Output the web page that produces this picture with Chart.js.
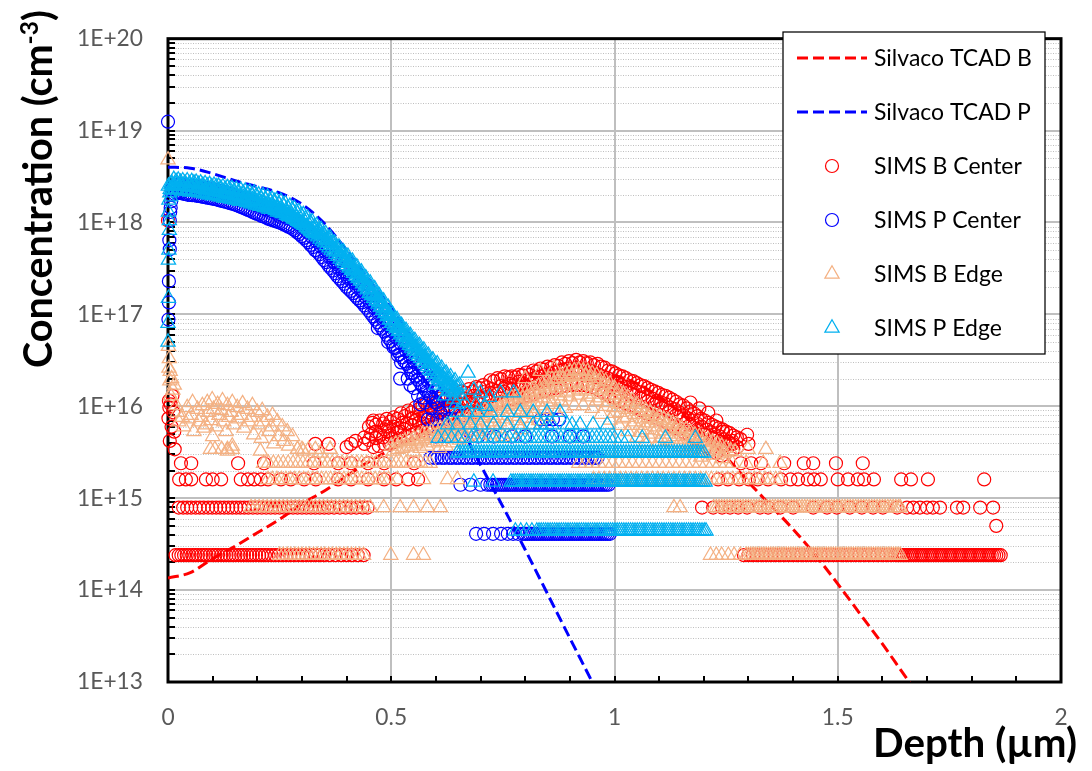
<!DOCTYPE html>
<html>
<head>
<meta charset="utf-8">
<title>Depth profile</title>
<script src="https://cdn.jsdelivr.net/npm/chart.js@4.4.1/dist/chart.umd.min.js"></script>
<style>
  html, body { margin: 0; padding: 0; background: #ffffff; }
  #wrap { width: 1092px; height: 771px; }
</style>
</head>
<body>
<div id="wrap"><canvas id="chart" width="1092" height="771"></canvas></div>
<script>
// ---------------- simulated profiles (depth in µm, concentration in cm^-3) ----------------
const tcadDepth = [0, 0.05, 0.1, 0.15, 0.2, 0.25, 0.3, 0.35, 0.4, 0.45, 0.5, 0.55, 0.6, 0.65, 0.7, 0.75, 0.8, 0.85,
  0.9, 0.95, 1.0, 1.05, 1.1, 1.15, 1.2, 1.25, 1.3, 1.35, 1.4, 1.45, 1.5, 1.55, 1.6, 1.65, 1.7];
const tcadB = [1.35e14, 1.55e14, 2.2e14, 3.0e14, 4.2e14, 5.9e14, 8.7e14, 1.2e15, 1.74e15, 2.5e15, 3.4e15, 4.6e15,
  6.0e15, 7.8e15, 1.0e16, 1.26e16, 1.55e16, 1.86e16, 2.1e16, 2.24e16, 2.14e16, 1.78e16, 1.26e16, 8.3e15, 5.0e15,
  2.8e15, 1.5e15, 8.3e14, 4.6e14, 2.4e14, 1.17e14, 5.5e13, 2.6e13, 1.17e13, 5.4e12];
const tcadP = [4.0e18, 3.9e18, 3.4e18, 2.85e18, 2.45e18, 2.1e18, 1.58e18, 9.8e17, 5.0e17, 2.4e17, 1.17e17, 5.2e16,
  2.0e16, 6.9e15, 2.3e15, 8.1e14, 2.75e14, 9.1e13, 3.0e13, 1.0e13, 3.2e12];

// ---------------- SIMS, phosphorus, edge of device ----------------
const pEdgeSurface = [[0.001,2.5e18],[0.004,2.1e18],[0.005,2.3e18],[0.007,2.6e18],[0.002,1.75e18],[0.006,1.9e18],
  [0.001,1.3e18],[0.003,1.05e18],[0.003,8.2e17],[0.002,5.0e17],[0.001,3.9e17],[0.001,1.5e17],[0.0,8.0e16],[0.0,5.0e16]];
const pEdgeProfile = [[0.008,2.7e18],[0.013,2.95e18],[0.018,2.8e18],[0.023,2.9e18],[0.028,2.75e18],[0.033,2.85e18],
  [0.038,2.7e18],[0.043,2.85e18],[0.048,2.65e18],[0.053,2.8e18],[0.058,2.7e18],[0.063,2.75e18],[0.068,2.6e18],
  [0.073,2.7e18],[0.078,2.55e18],[0.083,2.65e18],[0.088,2.5e18],[0.093,2.6e18],[0.098,2.45e18],[0.103,2.55e18],
  [0.108,2.45e18],[0.113,2.5e18],[0.118,2.35e18],[0.123,2.45e18],[0.128,2.3e18],[0.133,2.4e18],[0.138,2.3e18],
  [0.143,2.35e18],[0.148,2.2e18],[0.153,2.3e18],[0.158,2.15e18],[0.163,2.25e18],[0.168,2.1e18],[0.173,2.2e18],
  [0.178,2.05e18],[0.183,2.15e18],[0.188,2.0e18],[0.193,2.1e18],[0.198,1.95e18],[0.203,2.0e18],[0.208,1.85e18],
  [0.213,1.95e18],[0.218,1.8e18],[0.223,1.9e18],[0.228,1.75e18],[0.233,1.8e18],[0.238,1.7e18],[0.243,1.75e18],
  [0.248,1.6e18],[0.253,1.7e18],[0.258,1.55e18],[0.263,1.6e18],[0.268,1.45e18],[0.273,1.5e18],[0.278,1.38e18],
  [0.283,1.42e18],[0.288,1.3e18],[0.293,1.32e18],[0.298,1.2e18],[0.303,1.22e18],[0.308,1.1e18],[0.313,1.12e18],
  [0.318,1.0e18],[0.323,1.02e18],[0.328,9.0e17],[0.333,9.3e17],[0.338,8.2e17],[0.343,8.4e17],[0.348,7.4e17],
  [0.353,7.6e17],[0.358,6.6e17],[0.363,6.8e17],[0.368,5.9e17],[0.373,6.0e17],[0.378,5.3e17],[0.383,5.4e17],
  [0.388,4.7e17],[0.393,4.8e17],[0.398,4.2e17],[0.403,4.3e17],[0.408,3.7e17],[0.413,3.8e17],[0.418,3.2e17],
  [0.423,3.3e17],[0.428,2.8e17],[0.433,2.9e17],[0.438,2.45e17],[0.443,2.5e17],[0.448,2.1e17],[0.453,2.2e17],
  [0.458,1.85e17],[0.463,1.9e17],[0.468,1.6e17],[0.473,1.6e17],[0.478,1.35e17],[0.483,1.4e17],[0.488,1.15e17],
  [0.493,1.2e17],[0.498,9.8e16],[0.503,1.0e17],[0.508,8.6e16],[0.513,8.8e16],[0.518,7.5e16],[0.523,7.6e16],
  [0.528,6.5e16],[0.533,6.7e16],[0.538,5.7e16],[0.543,5.9e16],[0.548,5.0e16],[0.553,5.2e16],[0.558,4.4e16],
  [0.563,4.6e16],[0.568,3.9e16],[0.573,4.1e16],[0.578,3.4e16],[0.583,3.6e16],[0.588,3.0e16],[0.593,3.2e16],
  [0.598,2.7e16],[0.603,2.9e16],[0.608,2.4e16],[0.613,2.6e16],[0.618,2.2e16],[0.623,2.3e16],[0.628,1.95e16],
  [0.633,2.1e16],[0.638,1.75e16],[0.643,1.9e16],[0.648,1.6e16],[0.653,1.7e16]];
const pEdgeProfileMid = [[0.0093,2.5e18],[0.0143,2.55e18],[0.0193,2.55e18],[0.0243,2.55e18],[0.0293,2.5e18],
  [0.0343,2.5e18],[0.0393,2.5e18],[0.0443,2.45e18],[0.0493,2.45e18],[0.0543,2.45e18],[0.0593,2.4e18],[0.0643,2.4e18],
  [0.0693,2.35e18],[0.0743,2.35e18],[0.0793,2.3e18],[0.0843,2.3e18],[0.0893,2.25e18],[0.0943,2.25e18],[0.0993,2.2e18],
  [0.1043,2.2e18],[0.1093,2.18e18],[0.1143,2.15e18],[0.1193,2.12e18],[0.1243,2.1e18],[0.1293,2.07e18],[0.1343,2.05e18],
  [0.1393,2.03e18],[0.1443,2.0e18],[0.1493,1.98e18],[0.1543,1.95e18],[0.1593,1.92e18],[0.1643,1.9e18],[0.1693,1.87e18],
  [0.1743,1.85e18],[0.1793,1.82e18],[0.1843,1.8e18],[0.1893,1.77e18],[0.1943,1.73e18],[0.1993,1.7e18],[0.2043,1.67e18],
  [0.2093,1.63e18],[0.2143,1.6e18],[0.2193,1.57e18],[0.2243,1.53e18],[0.2293,1.5e18],[0.2343,1.47e18],[0.2393,1.43e18],
  [0.2443,1.4e18],[0.2493,1.37e18],[0.2543,1.33e18],[0.2593,1.3e18],[0.2643,1.26e18],[0.2693,1.22e18],[0.2743,1.18e18],
  [0.2793,1.14e18],[0.2843,1.1e18],[0.2893,1.06e18],[0.2943,1.02e18],[0.2993,9.8e17],[0.3043,9.4e17],[0.3093,9.0e17],
  [0.3143,8.6e17],[0.3193,8.2e17],[0.3243,7.8e17],[0.3293,8.2e17],[0.3343,7.9e17],[0.3393,7.4e17],[0.3443,7.1e17],
  [0.3493,6.7e17],[0.3543,6.4e17],[0.3593,6.0e17],[0.3643,5.7e17],[0.3693,5.3e17],[0.3743,5.0e17],[0.3793,4.8e17],
  [0.3843,4.5e17],[0.3893,4.2e17],[0.3943,4.0e17],[0.3993,3.8e17],[0.4043,3.6e17],[0.4093,3.3e17],[0.4143,3.1e17],
  [0.4193,2.9e17],[0.4243,2.7e17],[0.4293,2.5e17],[0.4343,2.35e17],[0.4393,2.2e17],[0.4443,2.05e17],[0.4493,1.9e17],
  [0.4543,1.75e17],[0.4593,1.65e17],[0.4643,1.55e17],[0.4693,1.42e17],[0.4743,1.35e17],[0.4793,1.22e17],[0.4843,1.15e17],
  [0.4893,1.05e17],[0.4943,9.8e16],[0.4993,8.8e16],[0.5043,8.3e16],[0.5093,7.7e16],[0.5143,7.2e16],[0.5193,6.7e16],
  [0.5243,6.2e16],[0.5293,5.8e16],[0.5343,5.4e16],[0.5393,5.1e16],[0.5443,4.8e16],[0.5493,4.5e16],[0.5543,4.2e16],
  [0.5593,4.0e16],[0.5643,3.7e16],[0.5693,3.5e16],[0.5743,3.3e16],[0.5793,3.1e16],[0.5843,2.9e16],[0.5893,2.7e16],
  [0.5943,2.55e16],[0.5993,2.4e16],[0.6043,2.3e16],[0.6093,2.15e16],[0.6143,2.05e16],[0.6193,1.95e16],[0.6243,1.85e16],
  [0.6293,1.75e16],[0.6343,1.65e16],[0.6393,1.55e16],[0.6443,1.5e16]];
const pEdgeProfileLow = [[0.0105,2.25e18],[0.0155,2.3e18],[0.0205,2.25e18],[0.0255,2.3e18],[0.0305,2.2e18],
  [0.0355,2.25e18],[0.0405,2.2e18],[0.0455,2.2e18],[0.0505,2.15e18],[0.0555,2.2e18],[0.0605,2.15e18],[0.0655,2.15e18],
  [0.0705,2.1e18],[0.0755,2.1e18],[0.0805,2.05e18],[0.0855,2.05e18],[0.0905,2.0e18],[0.0955,2.0e18],[0.1005,1.95e18],
  [0.1055,2.0e18],[0.1105,1.95e18],[0.1155,1.9e18],[0.1205,1.9e18],[0.1255,1.85e18],[0.1305,1.85e18],[0.1355,1.85e18],
  [0.1405,1.8e18],[0.1455,1.8e18],[0.1505,1.75e18],[0.1555,1.75e18],[0.1605,1.7e18],[0.1655,1.75e18],[0.1705,1.7e18],
  [0.1755,1.65e18],[0.1805,1.65e18],[0.1855,1.6e18],[0.1905,1.6e18],[0.1955,1.55e18],[0.2005,1.55e18],[0.2055,1.5e18],
  [0.2105,1.5e18],[0.2155,1.45e18],[0.2205,1.45e18],[0.2255,1.4e18],[0.2305,1.4e18],[0.2355,1.4e18],[0.2405,1.35e18],
  [0.2455,1.3e18],[0.2505,1.3e18],[0.2555,1.25e18],[0.2605,1.25e18],[0.2655,1.2e18],[0.2705,1.17e18],[0.2755,1.15e18],
  [0.2805,1.1e18],[0.2855,1.08e18],[0.2905,1.03e18],[0.2955,1.0e18],[0.3005,9.6e17],[0.3055,9.3e17],[0.3105,8.8e17],
  [0.3155,8.5e17],[0.3205,8.0e17],[0.3255,7.6e17],[0.3305,7.3e17],[0.3355,7.0e17],[0.3405,6.6e17],[0.3455,6.3e17],
  [0.3505,6.0e17],[0.3555,5.6e17],[0.3605,5.3e17],[0.3655,5.0e17],[0.3705,4.8e17],[0.3755,4.5e17],[0.3805,4.3e17],
  [0.3855,4.0e17],[0.3905,3.8e17],[0.3955,3.6e17],[0.4005,3.4e17],[0.4055,3.2e17],[0.4105,3.0e17],[0.4155,2.8e17],
  [0.4205,2.6e17],[0.4255,2.45e17],[0.4305,2.3e17],[0.4355,2.15e17],[0.4405,2.0e17],[0.4455,1.85e17],[0.4505,1.7e17],
  [0.4555,1.6e17],[0.4605,1.5e17],[0.4655,1.4e17],[0.4705,1.3e17],[0.4755,1.2e17],[0.4805,1.1e17],[0.4855,1.02e17],
  [0.4905,9.5e16],[0.4955,8.7e16],[0.5005,8.0e16],[0.5055,7.4e16],[0.5105,7.0e16],[0.5155,6.5e16],[0.5205,6.0e16],
  [0.5255,5.6e16],[0.5305,5.2e16],[0.5355,4.9e16],[0.5405,4.6e16],[0.5455,4.3e16],[0.5505,4.0e16],[0.5555,3.7e16],
  [0.5605,3.5e16],[0.5655,3.3e16],[0.5705,3.1e16],[0.5755,2.9e16],[0.5805,2.7e16],[0.5855,2.5e16],[0.5905,2.4e16],
  [0.5955,2.25e16],[0.6005,2.1e16],[0.6055,2.0e16],[0.6105,1.9e16],[0.6155,1.8e16],[0.6205,1.7e16],[0.6255,1.6e16],
  [0.6305,1.5e16],[0.6355,1.45e16],[0.6405,1.4e16]];
const pEdgeScatter = [[0.672,2.3e16],[0.685,1.5e16],[0.7,1.4e16],[0.72,1.25e16],[0.745,1.4e16],[0.774,1.4e16],
  [0.655,1.3e16],[0.665,1.1e16],[0.64,1.2e16],[0.628,1.45e16],[0.645,1.05e16],[0.61,1.9e16],[0.6,1.7e16],
  [0.62,1.3e16],[0.69,1.05e16],[0.71,1.0e16]];
const pEdgeAt8p6e15 = [0.648,0.67,0.693,0.722,0.76,0.789,0.818,0.849,0.878];
const pEdgeAt6p3e15 = [0.626,0.648,0.677,0.7,0.729,0.76,0.789,0.818,0.835,0.849,0.86,0.894,0.905,0.923,0.952,0.984];
const pEdgeAt4p5e15 = [0.605,0.62,0.635,0.65,0.665,0.68,0.69,0.705,0.715,0.73,0.74,0.755,0.765,0.78,0.79,0.8,0.81,
  0.82,0.83,0.84,0.85,0.86,0.87,0.88,0.89,0.9,0.91,0.92,0.93,0.94,0.95,0.96,0.97,0.98,0.99,1.0,1.015,1.03,1.062,
  1.114,1.181];
const pEdgeAt3p1e15 = [0.648,0.654,0.66,0.666,0.672,0.678,0.684,0.69,0.696,0.702,0.708,0.714,0.72,0.726,0.732,0.738,
  0.744,0.75,0.756,0.762,0.768,0.774,0.78,0.786,0.792,0.798,0.804,0.81,0.816,0.822,0.828,0.834,0.84,0.846,0.852,
  0.858,0.864,0.87,0.876,0.882,0.888,0.894,0.9,0.906,0.912,0.918,0.924,0.93,0.936,0.942,0.948,0.954,0.96,0.966,
  0.972,0.978,0.984,0.99,0.996,1.002,1.008,1.014,1.02,1.026,1.032,1.038,1.044,1.05,1.056,1.062,1.068,1.074,1.08,
  1.086,1.092,1.098,1.104,1.11,1.116,1.122,1.128,1.134,1.14,1.146,1.152,1.158,1.164,1.17,1.176,1.182,1.188,1.194,1.2];
const pEdgeAt1p5e15 = [0.685,0.728,0.768,0.773,0.778,0.783,0.788,0.793,0.798,0.803,0.808,0.813,0.818,0.823,0.828,
  0.833,0.838,0.843,0.848,0.853,0.858,0.863,0.868,0.873,0.878,0.883,0.888,0.893,0.898,0.903,0.908,0.913,0.918,0.923,
  0.928,0.933,0.938,0.943,0.948,0.953,0.958,0.963,0.968,0.973,0.978,0.983,0.988,0.993,0.998,1.003,1.008,1.013,1.018,
  1.023,1.028,1.033,1.038,1.043,1.048,1.053,1.058,1.063,1.068,1.073,1.078,1.083,1.088,1.093,1.098,1.103,1.108,1.113,
  1.118,1.123,1.128,1.133,1.138,1.143,1.148,1.153,1.158,1.163,1.168,1.173,1.178,1.183,1.188,1.193,1.198,1.203];
const pEdgeAt4p4e14 = [0.778,0.79,0.803,0.815,0.826,0.831,0.836,0.841,0.846,0.851,0.856,0.861,0.866,0.871,0.876,
  0.881,0.886,0.891,0.896,0.901,0.906,0.911,0.916,0.921,0.926,0.931,0.936,0.941,0.946,0.951,0.956,0.961,0.966,0.971,
  0.976,0.981,0.986,0.991,0.996,1.001,1.006,1.011,1.016,1.021,1.026,1.031,1.036,1.041,1.046,1.051,1.056,1.061,1.066,
  1.071,1.076,1.081,1.086,1.091,1.096,1.101,1.106,1.111,1.116,1.121,1.126,1.131,1.136,1.141,1.146,1.151,1.156,1.161,
  1.166,1.171,1.176,1.181,1.186,1.191,1.196,1.201,1.205];

// ---------------- SIMS, phosphorus, centre of device ----------------
const pCenterSurface = [[0.0,1.25e19],[0.001,8.8e16],[0.002,1.35e17],[0.002,2.3e17],[0.004,5.1e17],[0.003,6.4e17],
  [0.004,1.05e18],[0.005,1.3e18],[0.006,1.45e18],[0.007,1.7e18],[0.008,2.0e18],[0.009,2.3e18]];
const pCenterProfile = [[0.012,2.4e18],[0.017,2.55e18],[0.022,2.5e18],[0.027,2.6e18],[0.032,2.45e18],[0.037,2.55e18],
  [0.042,2.4e18],[0.047,2.5e18],[0.052,2.38e18],[0.057,2.48e18],[0.062,2.35e18],[0.067,2.45e18],[0.072,2.3e18],
  [0.077,2.4e18],[0.082,2.28e18],[0.087,2.36e18],[0.092,2.22e18],[0.097,2.3e18],[0.102,2.2e18],[0.107,2.26e18],
  [0.112,2.12e18],[0.117,2.2e18],[0.122,2.08e18],[0.127,2.14e18],[0.132,2.0e18],[0.137,2.06e18],[0.142,1.95e18],
  [0.147,2.0e18],[0.152,1.88e18],[0.157,1.93e18],[0.162,1.8e18],[0.167,1.85e18],[0.172,1.72e18],[0.177,1.78e18],
  [0.182,1.65e18],[0.187,1.7e18],[0.192,1.58e18],[0.197,1.62e18],[0.202,1.52e18],[0.207,1.55e18],[0.212,1.45e18],
  [0.217,1.48e18],[0.222,1.38e18],[0.227,1.42e18],[0.232,1.33e18],[0.237,1.36e18],[0.242,1.28e18],[0.247,1.3e18],
  [0.252,1.22e18],[0.257,1.25e18],[0.262,1.16e18],[0.267,1.19e18],[0.272,1.1e18],[0.277,1.12e18],[0.282,1.04e18],
  [0.287,1.05e18],[0.292,9.6e17],[0.297,9.7e17],[0.302,8.8e17],[0.307,8.9e17],[0.312,7.9e17],[0.317,8.0e17],
  [0.322,7.0e17],[0.327,7.1e17],[0.332,6.2e17],[0.337,6.3e17],[0.342,5.5e17],[0.347,5.6e17],[0.352,4.8e17],
  [0.357,4.9e17],[0.362,4.2e17],[0.367,4.3e17],[0.372,3.7e17],[0.377,3.8e17],[0.382,3.2e17],[0.387,3.3e17],
  [0.392,2.85e17],[0.397,2.9e17],[0.402,2.5e17],[0.407,2.55e17],[0.412,2.25e17],[0.417,2.3e17],[0.422,2.0e17],
  [0.427,2.05e17],[0.432,1.8e17],[0.437,1.8e17],[0.442,1.55e17],[0.447,1.6e17],[0.452,1.35e17],[0.457,1.4e17],
  [0.462,1.18e17],[0.467,1.2e17],[0.472,1.02e17],[0.477,1.05e17],[0.482,8.8e16],[0.487,9.0e16],[0.492,7.6e16],
  [0.497,7.8e16],[0.502,6.5e16],[0.507,6.7e16],[0.512,5.6e16],[0.517,5.8e16],[0.522,4.8e16],[0.527,4.9e16],
  [0.532,4.1e16],[0.537,4.2e16],[0.542,3.5e16],[0.547,3.6e16],[0.552,3.0e16],[0.557,3.1e16],[0.562,2.6e16],
  [0.567,2.7e16],[0.572,2.2e16],[0.577,2.3e16],[0.582,1.9e16],[0.587,2.0e16],[0.592,1.65e16],[0.597,1.7e16],
  [0.602,1.45e16],[0.607,1.5e16],[0.612,1.3e16],[0.617,1.35e16],[0.622,1.15e16]];
const pCenterProfileLow = [[0.0145,2.05e18],[0.0195,2.1e18],[0.0245,2.1e18],[0.0295,2.1e18],[0.0345,2.05e18],
  [0.0395,2.05e18],[0.0445,2.0e18],[0.0495,2.0e18],[0.0545,1.98e18],[0.0595,1.98e18],[0.0645,1.95e18],[0.0695,1.95e18],
  [0.0745,1.92e18],[0.0795,1.9e18],[0.0845,1.88e18],[0.0895,1.86e18],[0.0945,1.84e18],[0.0995,1.82e18],[0.1045,1.8e18],
  [0.1095,1.78e18],[0.1145,1.75e18],[0.1195,1.72e18],[0.1245,1.7e18],[0.1295,1.68e18],[0.1345,1.65e18],[0.1395,1.62e18],
  [0.1445,1.6e18],[0.1495,1.57e18],[0.1545,1.54e18],[0.1595,1.5e18],[0.1645,1.47e18],[0.1695,1.44e18],[0.1745,1.4e18],
  [0.1795,1.37e18],[0.1845,1.34e18],[0.1895,1.3e18],[0.1945,1.27e18],[0.1995,1.24e18],[0.2045,1.22e18],[0.2095,1.18e18],
  [0.2145,1.16e18],[0.2195,1.13e18],[0.2245,1.1e18],[0.2295,1.08e18],[0.2345,1.06e18],[0.2395,1.04e18],[0.2445,1.02e18],
  [0.2495,1.0e18],[0.2545,9.8e17],[0.2595,9.5e17],[0.2645,9.3e17],[0.2695,9.0e17],[0.2745,8.8e17],[0.2795,8.5e17],
  [0.2845,8.2e17],[0.2895,7.8e17],[0.2945,7.5e17],[0.2995,7.1e17],[0.3045,6.8e17],[0.3095,6.4e17],[0.3145,6.1e17],
  [0.3195,5.7e17],[0.3245,5.4e17],[0.3295,5.0e17],[0.3345,4.8e17],[0.3395,4.5e17],[0.3445,4.2e17],[0.3495,3.9e17],
  [0.3545,3.7e17],[0.3595,3.4e17],[0.3645,3.2e17],[0.3695,3.0e17],[0.3745,2.8e17],[0.3795,2.6e17],[0.3845,2.45e17],
  [0.3895,2.3e17],[0.3945,2.15e17],[0.3995,2.0e17],[0.4045,1.9e17],[0.4095,1.8e17],[0.4145,1.7e17],[0.4195,1.6e17],
  [0.4245,1.5e17],[0.4295,1.42e17],[0.4345,1.35e17],[0.4395,1.25e17],[0.4445,1.18e17],[0.4495,1.1e17],[0.4545,1.02e17],
  [0.4595,9.5e16],[0.4645,8.8e16],[0.4695,8.2e16],[0.4745,7.6e16],[0.4795,7.0e16],[0.4845,6.5e16],[0.4895,6.0e16],
  [0.4945,5.5e16],[0.4995,5.1e16],[0.5045,4.7e16],[0.5095,4.3e16],[0.5145,4.0e16],[0.5195,3.7e16],[0.5245,3.4e16],
  [0.5295,3.1e16],[0.5345,2.9e16],[0.5395,2.7e16],[0.5445,2.5e16],[0.5495,2.3e16],[0.5545,2.1e16],[0.5595,1.95e16],
  [0.5645,1.8e16],[0.5695,1.65e16],[0.5745,1.55e16],[0.5795,1.45e16],[0.5845,1.35e16],[0.5895,1.25e16],[0.5945,1.18e16],
  [0.5995,1.1e16],[0.6045,1.05e16]];
const pCenterScatter = [[0.47,7.1e16],[0.493,5.0e16],[0.505,4.4e16],[0.515,3.6e16],[0.522,3.0e16],[0.52,2.0e16],
  [0.537,2.0e16],[0.543,1.7e16],[0.545,2.3e16],[0.551,1.58e16],[0.56,1.3e16],[0.572,1.24e16],[0.575,1.1e16],
  [0.565,1.05e16],[0.59,9.5e15],[0.61,8.5e15],[0.63,1.0e16],[0.645,9.0e15],[0.66,8.0e15]];
const pCenterAt7p2e15 = [0.582,0.592,0.603,0.615,0.628,0.64,0.835,0.848,0.862,0.876];
const pCenterAt4p7e15 = [0.6,0.625,0.66,0.695,0.73,0.77,0.8,0.86,0.9,0.93];
const pCenterAt2p75e15 = [0.588,0.597,0.604,0.613,0.62,0.629,0.636,0.645,0.652,0.661,0.668,0.677,0.684,0.693,0.7,
  0.709,0.716,0.725,0.732,0.741,0.748,0.757,0.764,0.773,0.78,0.789,0.796,0.805,0.812,0.821,0.828,0.837,0.844,0.853,
  0.86,0.869,0.876,0.885,0.892,0.901,0.908,0.917,0.924,0.933,0.94,0.949,0.956,0.962];
const pCenterAt1p4e15 = [0.655,0.677,0.7,0.715,0.722,0.727,0.732,0.737,0.742,0.747,0.752,0.757,0.762,0.767,0.772,
  0.777,0.782,0.787,0.792,0.797,0.802,0.807,0.812,0.817,0.822,0.827,0.832,0.837,0.842,0.847,0.852,0.857,0.862,0.867,
  0.872,0.877,0.882,0.887,0.892,0.897,0.902,0.907,0.912,0.917,0.922,0.927,0.932,0.937,0.942,0.947,0.952,0.957,0.962,
  0.967,0.972,0.977,0.982,0.987];
const pCenterAt4p1e14 = [0.69,0.708,0.728,0.746,0.761,0.773,0.784,0.795,0.8,0.805,0.81,0.815,0.82,0.825,0.83,0.835,
  0.84,0.845,0.85,0.855,0.86,0.865,0.87,0.875,0.88,0.885,0.89,0.895,0.9,0.905,0.91,0.915,0.92,0.925,0.93,0.935,0.94,
  0.945,0.95,0.955,0.96,0.965,0.97,0.975,0.98,0.985,0.99];

// ---------------- SIMS, boron, centre of device ----------------
const bCenterSurface = [[0.0,1.05e18],[0.002,1.15e16],[0.001,7.4e15],[0.003,9.7e15],[0.006,1.05e16],[0.008,6.0e15],
  [0.004,4.2e15],[0.015,3.4e15],[0.012,8.6e15],[0.01,1.3e16],[0.014,5.3e15]];
const bCenterHumpTop = [[0.45,6.0e15],[0.458,6.6e15],[0.466,6.3e15],[0.474,7.0e15],[0.482,6.5e15],[0.49,7.3e15],
  [0.498,6.8e15],[0.506,7.6e15],[0.514,7.3e15],[0.522,8.4e15],[0.53,7.8e15],[0.538,9.0e15],[0.546,8.6e15],
  [0.554,9.7e15],[0.562,9.3e15],[0.57,1.02e16],[0.578,1.07e16],[0.586,1.02e16],[0.594,1.12e16],[0.602,1.1e16],
  [0.61,1.21e16],[0.618,1.18e16],[0.626,1.3e16],[0.634,1.24e16],[0.642,1.36e16],[0.65,1.33e16],[0.658,1.45e16],
  [0.666,1.4e16],[0.674,1.54e16],[0.682,1.45e16],[0.69,1.62e16],[0.698,1.58e16],[0.706,1.7e16],[0.714,1.62e16],
  [0.722,1.92e16],[0.73,1.88e16],[0.738,2.02e16],[0.746,1.97e16],[0.754,2.12e16],[0.762,2.07e16],[0.77,2.12e16],
  [0.778,2.07e16],[0.786,2.2e16],[0.794,2.17e16],[0.802,2.33e16],[0.81,2.2e16],[0.818,2.45e16],[0.826,2.4e16],
  [0.834,2.57e16],[0.842,2.5e16],[0.85,2.7e16],[0.858,2.63e16],[0.866,2.8e16],[0.874,2.75e16],[0.882,3.0e16],
  [0.89,2.9e16],[0.898,3.1e16],[0.906,2.95e16],[0.914,3.2e16],[0.922,3.0e16],[0.93,3.1e16],[0.938,2.95e16],
  [0.946,3.0e16],[0.954,2.8e16],[0.962,2.9e16],[0.97,2.7e16],[0.978,2.63e16],[0.986,2.45e16],[0.994,2.4e16],
  [1.002,2.28e16],[1.01,2.17e16],[1.018,2.12e16],[1.026,2.02e16],[1.034,1.92e16],[1.042,1.88e16],[1.05,1.79e16],
  [1.058,1.7e16],[1.066,1.66e16],[1.074,1.58e16],[1.082,1.51e16],[1.09,1.45e16],[1.098,1.4e16],[1.106,1.33e16],
  [1.114,1.3e16],[1.122,1.24e16],[1.13,1.18e16],[1.138,1.12e16],[1.146,1.05e16],[1.154,1.02e16],[1.162,9.5e15],
  [1.17,8.8e15],[1.178,8.4e15],[1.186,7.8e15],[1.194,7.3e15],[1.202,7.0e15],[1.21,6.6e15],[1.218,6.3e15],
  [1.226,6.0e15],[1.234,5.8e15],[1.242,5.6e15],[1.25,5.3e15],[1.258,5.1e15],[1.266,4.8e15],[1.274,4.6e15],
  [1.282,4.4e15]];
const bCenterHumpUpper = [[0.455,5.0e15],[0.465,5.3e15],[0.475,4.9e15],[0.485,5.6e15],[0.495,5.4e15],[0.505,6.0e15],
  [0.515,5.8e15],[0.525,6.6e15],[0.535,6.5e15],[0.545,7.3e15],[0.555,7.1e15],[0.565,8.0e15],[0.575,7.6e15],
  [0.585,8.6e15],[0.595,8.8e15],[0.605,9.5e15],[0.615,9.3e15],[0.625,1.02e16],[0.635,1.0e16],[0.645,1.12e16],
  [0.655,1.07e16],[0.665,1.21e16],[0.675,1.18e16],[0.685,1.3e16],[0.695,1.27e16],[0.705,1.43e16],[0.715,1.36e16],
  [0.725,1.54e16],[0.735,1.47e16],[0.745,1.66e16],[0.755,1.62e16],[0.765,1.75e16],[0.775,1.7e16],[0.785,1.84e16],
  [0.795,1.79e16],[0.805,1.92e16],[0.815,1.97e16],[0.825,2.07e16],[0.835,2.12e16],[0.845,2.2e16],[0.855,2.28e16],
  [0.865,2.33e16],[0.875,2.45e16],[0.885,2.5e16],[0.895,2.57e16],[0.905,2.5e16],[0.915,2.63e16],[0.925,2.57e16],
  [0.935,2.5e16],[0.945,2.45e16],[0.955,2.33e16],[0.965,2.2e16],[0.975,2.12e16],[0.985,2.02e16],[0.995,1.92e16],
  [1.005,1.84e16],[1.015,1.7e16],[1.025,1.62e16],[1.035,1.54e16],[1.045,1.51e16],[1.055,1.43e16],[1.065,1.36e16],
  [1.075,1.27e16],[1.085,1.21e16],[1.095,1.15e16],[1.105,1.1e16],[1.115,1.05e16],[1.125,9.7e15],[1.135,9.3e15],
  [1.145,8.6e15],[1.155,8.0e15],[1.165,7.4e15],[1.175,7.0e15],[1.185,6.5e15],[1.195,6.0e15],[1.205,5.6e15],
  [1.215,5.2e15],[1.225,4.9e15],[1.235,4.7e15],[1.245,4.4e15],[1.255,4.1e15],[1.265,3.9e15],[1.275,3.6e15]];
const bCenterHumpLow = [[0.45,4.3e15],[0.466,4.5e15],[0.482,4.6e15],[0.498,4.8e15],[0.514,5.2e15],[0.53,5.6e15],
  [0.546,6.2e15],[0.562,6.6e15],[0.578,7.6e15],[0.594,8.0e15],[0.61,8.6e15],[0.626,9.3e15],[0.642,9.7e15],
  [0.658,1.05e16],[0.674,1.1e16],[0.69,1.15e16],[0.706,1.21e16],[0.722,1.27e16],[0.738,1.36e16],[0.754,1.43e16],
  [0.77,1.51e16],[0.786,1.58e16],[0.802,1.66e16],[0.818,1.75e16],[0.834,1.84e16],[0.85,1.92e16],[0.866,2.02e16],
  [0.882,2.17e16],[0.898,2.2e16],[0.914,2.28e16],[0.93,2.2e16],[0.946,2.17e16],[0.962,2.07e16],[0.978,1.88e16],
  [0.994,1.7e16],[1.01,1.54e16],[1.026,1.43e16],[1.042,1.33e16],[1.058,1.21e16],[1.074,1.12e16],[1.09,1.05e16],
  [1.106,9.5e15],[1.122,8.8e15],[1.138,8.0e15],[1.154,7.3e15],[1.17,6.3e15],[1.186,5.6e15],[1.202,4.9e15],
  [1.218,4.5e15],[1.234,4.15e15],[1.25,3.8e15],[1.266,3.4e15]];
const bCenterHumpBase = [[0.46,3.6e15],[0.472,3.7e15],[0.484,3.9e15],[0.496,3.9e15],[0.508,4.1e15],[0.52,4.4e15],
  [0.532,4.7e15],[0.544,4.9e15],[0.556,5.2e15],[0.568,5.4e15],[0.58,5.7e15],[0.592,6.0e15],[0.604,6.3e15],
  [0.616,6.6e15],[0.628,6.8e15],[0.64,7.1e15],[0.652,7.4e15],[0.664,7.8e15],[0.676,8.2e15],[0.688,8.6e15],
  [0.7,9.0e15],[0.712,9.5e15],[0.724,1.02e16],[0.736,1.07e16],[0.748,1.12e16],[0.76,1.18e16],[0.772,1.21e16],
  [0.784,1.24e16],[0.796,1.27e16],[0.808,1.3e16],[0.82,1.36e16],[0.832,1.43e16],[0.844,1.47e16],[0.856,1.54e16],
  [0.868,1.58e16],[0.88,1.62e16],[0.892,1.66e16],[0.904,1.7e16],[0.916,1.7e16],[0.928,1.7e16],[0.94,1.66e16],
  [0.952,1.62e16],[0.964,1.51e16],[0.976,1.4e16],[0.988,1.3e16],[1.0,1.24e16],[1.012,1.15e16],[1.024,1.07e16],
  [1.036,1.02e16],[1.048,9.7e15],[1.06,9.0e15],[1.072,8.4e15],[1.084,8.0e15],[1.096,7.4e15],[1.108,7.0e15],
  [1.12,6.5e15],[1.132,6.0e15],[1.144,5.6e15],[1.156,5.2e15],[1.168,4.8e15],[1.18,4.5e15],[1.192,4.1e15],
  [1.204,3.7e15],[1.216,3.4e15],[1.228,3.1e15],[1.24,2.9e15]];
const bCenterScatter = [[0.46,7.0e15],[0.49,6.0e15],[0.52,5.3e15],[0.55,7.5e15],[0.57,6.5e15],[1.228,7.0e15],
  [1.264,4.2e15],[1.243,5.3e15],[1.297,4.9e15],[0.42,4.2e15],[0.4,3.6e15],[0.44,4.6e15],[1.19,9.5e15],
  [1.21,8.5e15],[1.17,1.1e16]];
const bCenterAt2p4e14 = [0.017,0.024,0.03,0.036,0.042,0.048,0.055,0.061,0.067,0.074,0.08,0.086,0.093,0.1,0.106,
  0.112,0.119,0.125,0.131,0.138,0.145,0.151,0.158,0.164,0.17,0.177,0.184,0.19,0.197,0.204,0.21,0.217,0.224,0.232,
  0.24,0.248,0.256,0.265,0.274,0.283,0.292,0.301,0.31,0.32,0.33,0.34,0.35,0.362,0.375,0.388,0.4,0.412,0.425,0.438,
  1.29,1.3,1.31,1.32,1.33,1.34,1.35,1.36,1.37,1.38,1.39,1.4,1.41,1.42,1.43,1.44,1.45,1.46,1.47,1.48,1.49,1.5,1.51,
  1.52,1.53,1.54,1.55,1.56,1.57,1.58,1.59,1.6,1.61,1.62,1.63,1.635,1.64,1.645,1.65,1.655,1.66,1.665,1.67,1.675,
  1.68,1.685,1.69,1.695,1.7,1.705,1.71,1.715,1.72,1.725,1.73,1.735,1.74,1.745,1.75,1.755,1.76,1.765,1.77,1.775,
  1.78,1.785,1.79,1.795,1.8,1.805,1.81,1.815,1.82,1.825,1.83,1.835,1.84,1.845,1.85,1.855,1.86,1.865];
const bCenterAt5e14 = [1.855];
const bCenterAt7p9e14 = [0.024,0.034,0.043,0.052,0.062,0.071,0.08,0.09,0.099,0.108,0.117,0.126,0.135,0.144,0.153,
  0.162,0.171,0.18,0.19,0.2,0.21,0.22,0.23,0.24,0.25,0.26,0.27,0.28,0.29,0.3,0.31,0.32,0.33,0.34,0.35,0.36,0.372,
  0.385,0.398,0.41,0.422,0.436,0.447,1.196,1.221,1.241,1.259,1.277,1.297,1.326,1.344,1.371,1.4,1.445,1.476,1.498,
  1.527,1.554,1.579,1.601,1.633,1.655,1.669,1.684,1.7,1.713,1.729,1.767,1.781,1.819,1.848];
const bCenterAt1p6e15 = [0.025,0.04,0.052,0.085,0.1,0.119,0.163,0.179,0.193,0.208,0.224,0.253,0.275,0.305,0.331,
  0.381,0.41,0.448,0.484,0.511,0.538,0.56,1.232,1.254,1.279,1.301,1.321,1.344,1.373,1.394,1.411,1.433,1.447,1.462,
  1.5,1.523,1.545,1.559,1.581,1.642,1.664,1.702,1.828];
const bCenterAt2p4e15 = [0.029,0.052,0.157,0.215,0.327,0.381,0.41,0.448,0.484,0.551,1.283,1.306,1.328,1.38,1.424,
  1.445,1.496,1.556];
const bCenterAt3p9e15 = [0.33,0.36,0.41,0.44,1.26,1.3];

// ---------------- SIMS, boron, edge of device ----------------
const bEdgeSurface = [[0.0,4.8e18],[0.001,4.5e16],[0.003,3.3e16],[0.002,2.6e16],[0.005,2.4e16],[0.004,1.9e16],
  [0.008,2.0e16],[0.011,1.5e16],[0.014,1.7e16],[0.006,1.3e16]];
const bEdgeNearSurface = [[0.021,8.6e15],[0.024,6.8e15],[0.018,1.02e16],[0.032,7.6e15],[0.035,6.0e15],
  [0.043,9.7e15],[0.046,7.3e15],[0.055,1.1e16],[0.052,8.0e15],[0.058,5.3e15],[0.066,9.3e15],[0.069,6.8e15],
  [0.077,1.02e16],[0.074,7.6e15],[0.08,5.8e15],[0.088,1.1e16],[0.091,8.6e15],[0.085,6.3e15],[0.099,1.18e16],
  [0.102,9.3e15],[0.096,7.0e15],[0.1,4.7e15],[0.111,1.05e16],[0.114,8.0e15],[0.108,6.0e15],[0.122,1.15e16],
  [0.119,9.0e15],[0.125,6.8e15],[0.133,1.02e16],[0.136,7.6e15],[0.13,5.3e15],[0.133,3.26e15],[0.144,1.1e16],
  [0.141,8.6e15],[0.147,6.3e15],[0.144,3.7e15],[0.155,9.7e15],[0.158,7.3e15],[0.167,1.07e16],[0.164,8.0e15],
  [0.17,5.8e15],[0.178,9.3e15],[0.181,6.8e15],[0.189,1.02e16],[0.186,7.6e15],[0.192,4.9e15],[0.2,8.6e15],
  [0.203,6.3e15],[0.207,3.26e15],[0.211,9.0e15],[0.214,6.8e15],[0.209,4.5e15],[0.223,7.6e15],[0.226,5.3e15],
  [0.234,8.0e15],[0.231,6.0e15],[0.237,3.9e15],[0.245,6.8e15],[0.248,4.7e15],[0.256,6.0e15],[0.259,4.15e15],
  [0.267,5.3e15],[0.27,3.7e15],[0.279,4.7e15],[0.29,3.4e15],[0.303,3.26e15],[0.341,3.1e15],[0.363,3.4e15]];
const bEdgeHumpTop = [[0.5,3.7e15],[0.51,3.9e15],[0.52,4.0e15],[0.53,4.15e15],[0.54,4.3e15],[0.55,4.4e15],
  [0.56,4.7e15],[0.57,4.9e15],[0.58,5.0e15],[0.59,5.3e15],[0.6,5.6e15],[0.61,5.7e15],[0.62,6.0e15],[0.63,6.2e15],
  [0.64,6.5e15],[0.65,6.8e15],[0.66,7.1e15],[0.67,7.4e15],[0.68,7.8e15],[0.69,8.0e15],[0.7,8.4e15],[0.71,9.0e15],
  [0.72,9.5e15],[0.73,1.02e16],[0.74,1.07e16],[0.75,1.12e16],[0.76,1.18e16],[0.77,1.24e16],[0.78,1.3e16],
  [0.79,1.36e16],[0.8,1.4e16],[0.81,1.43e16],[0.82,1.54e16],[0.83,1.66e16],[0.84,1.75e16],[0.85,1.88e16],
  [0.86,1.97e16],[0.87,2.02e16],[0.88,2.17e16],[0.89,2.28e16],[0.9,2.4e16],[0.91,2.45e16],[0.92,2.5e16],
  [0.93,2.45e16],[0.94,2.4e16],[0.95,2.28e16],[0.96,2.17e16],[0.97,2.02e16],[0.98,1.88e16],[0.99,1.75e16],
  [1.0,1.58e16],[1.01,1.47e16],[1.02,1.36e16],[1.03,1.24e16],[1.04,1.15e16],[1.05,1.05e16],[1.06,9.7e15],
  [1.07,9.0e15],[1.08,8.6e15],[1.09,8.0e15],[1.1,7.6e15],[1.11,7.3e15],[1.12,7.0e15],[1.13,6.6e15],[1.14,6.3e15],
  [1.15,5.8e15],[1.16,5.6e15],[1.17,5.2e15],[1.18,4.9e15],[1.19,4.7e15],[1.2,4.5e15],[1.21,4.3e15],[1.22,4.1e15],
  [1.23,3.9e15],[1.24,3.7e15],[1.25,3.5e15],[1.26,3.3e15],[1.27,3.2e15],[0.834,2.4e16],[0.8,2.0e16],[0.865,2.6e16]];
const bEdgeHumpUpper = [[0.505,3.26e15],[0.515,3.4e15],[0.525,3.5e15],[0.535,3.6e15],[0.545,3.7e15],[0.555,3.9e15],
  [0.565,4.1e15],[0.575,4.3e15],[0.585,4.5e15],[0.595,4.7e15],[0.605,4.9e15],[0.615,5.0e15],[0.625,5.3e15],
  [0.635,5.4e15],[0.645,5.7e15],[0.655,6.0e15],[0.665,6.3e15],[0.675,6.6e15],[0.685,7.0e15],[0.695,7.1e15],
  [0.705,7.6e15],[0.715,8.0e15],[0.725,8.6e15],[0.735,9.0e15],[0.745,9.5e15],[0.755,1.0e16],[0.765,1.05e16],
  [0.775,1.1e16],[0.785,1.15e16],[0.795,1.21e16],[0.805,1.24e16],[0.815,1.3e16],[0.825,1.4e16],[0.835,1.47e16],
  [0.845,1.58e16],[0.855,1.66e16],[0.865,1.75e16],[0.875,1.84e16],[0.885,1.97e16],[0.895,2.07e16],[0.905,2.12e16],
  [0.915,2.17e16],[0.925,2.17e16],[0.935,2.12e16],[0.945,2.02e16],[0.955,1.92e16],[0.965,1.84e16],[0.975,1.7e16],
  [0.985,1.58e16],[0.995,1.47e16],[1.005,1.33e16],[1.015,1.24e16],[1.025,1.12e16],[1.035,1.05e16],[1.045,9.5e15],
  [1.055,8.8e15],[1.065,8.2e15],[1.075,7.6e15],[1.085,7.3e15],[1.095,7.0e15],[1.105,6.6e15],[1.115,6.3e15],
  [1.125,5.8e15],[1.135,5.6e15],[1.145,5.3e15],[1.155,4.9e15],[1.165,4.7e15],[1.175,4.4e15],[1.185,4.15e15],
  [1.195,4.0e15],[1.205,3.8e15],[1.215,3.6e15],[1.225,3.4e15],[1.235,3.26e15],[1.245,3.1e15]];
const bEdgeHumpMid = [[0.55,3.2e15],[0.565,3.5e15],[0.58,3.7e15],[0.595,4.0e15],[0.61,4.15e15],[0.625,4.5e15],
  [0.64,4.7e15],[0.655,5.0e15],[0.67,5.4e15],[0.685,5.8e15],[0.7,6.2e15],[0.715,6.8e15],[0.73,7.4e15],[0.745,8.0e15],
  [0.76,8.6e15],[0.775,9.3e15],[0.79,1.0e16],[0.805,1.05e16],[0.82,1.12e16],[0.835,1.24e16],[0.85,1.36e16],
  [0.865,1.43e16],[0.88,1.58e16],[0.895,1.7e16],[0.91,1.79e16],[0.925,1.84e16],[0.94,1.75e16],[0.955,1.66e16],
  [0.97,1.51e16],[0.985,1.33e16],[1.0,1.18e16],[1.015,1.05e16],[1.03,9.3e15],[1.045,8.2e15],[1.06,7.3e15],
  [1.075,6.6e15],[1.09,6.0e15],[1.105,5.4e15],[1.12,5.0e15],[1.135,4.7e15],[1.15,4.4e15],[1.165,4.0e15],
  [1.18,3.7e15],[1.195,3.4e15],[1.21,3.2e15],[1.225,2.95e15],[1.24,2.7e15]];
const bEdgeHumpLower = [[0.608,3.5e15],[0.623,3.7e15],[0.638,4.0e15],[0.653,4.3e15],[0.668,4.6e15],[0.683,4.9e15],
  [0.698,5.3e15],[0.713,5.7e15],[0.728,6.3e15],[0.743,6.8e15],[0.758,7.3e15],[0.773,7.8e15],[0.788,8.4e15],
  [0.803,8.8e15],[0.818,9.5e15],[0.833,1.02e16],[0.848,1.12e16],[0.863,1.21e16],[0.878,1.3e16],[0.893,1.4e16],
  [0.908,1.47e16],[0.923,1.51e16],[0.938,1.47e16],[0.953,1.36e16],[0.968,1.24e16],[0.983,1.1e16],[0.998,9.7e15],
  [1.013,8.6e15],[1.028,7.6e15],[1.043,6.8e15],[1.058,6.2e15],[1.073,5.6e15],[1.088,5.0e15],[1.103,4.6e15],
  [1.118,4.3e15],[1.133,4.0e15],[1.148,3.6e15],[1.163,3.3e15],[1.178,3.1e15],[1.193,2.8e15]];
const bEdgeHumpLow = [[0.7,4.5e15],[0.72,4.9e15],[0.74,5.7e15],[0.76,6.3e15],[0.78,7.0e15],[0.8,7.4e15],
  [0.82,8.2e15],[0.84,9.3e15],[0.86,1.05e16],[0.88,1.15e16],[0.9,1.27e16],[0.92,1.33e16],[0.94,1.27e16],
  [0.96,1.15e16],[0.98,1.0e16],[1.0,8.4e15],[1.02,7.3e15],[1.04,6.2e15],[1.06,5.2e15],[1.08,4.5e15],[1.1,4.1e15],
  [0.73,4.5e15],[0.75,4.7e15],[0.77,5.0e15],[0.79,5.6e15],[0.81,6.3e15],[0.83,7.0e15],[0.85,7.8e15],[0.87,8.6e15],
  [0.89,9.5e15],[0.91,1.02e16],[0.93,1.02e16],[0.95,9.5e15],[0.97,8.2e15],[0.99,7.1e15],[1.01,6.2e15],[1.03,5.3e15],
  [1.05,4.6e15],[1.07,4.1e15]];
const bEdgeAt2p4e14 = [0.25,0.258,0.267,0.275,0.284,0.292,0.3,0.309,0.317,0.326,0.334,0.343,0.351,0.36,0.368,0.377,
  0.385,0.394,0.402,0.411,0.42,0.429,0.438,0.499,0.55,0.572,1.215,1.228,1.24,1.255,1.268,1.282,1.295,1.3,1.305,
  1.31,1.315,1.32,1.325,1.33,1.335,1.34,1.345,1.35,1.355,1.36,1.365,1.37,1.375,1.38,1.385,1.39,1.395,1.4,1.405,1.41,
  1.415,1.42,1.425,1.43,1.435,1.44,1.445,1.45,1.455,1.46,1.465,1.47,1.475,1.48,1.485,1.49,1.495,1.5,1.505,1.51,
  1.515,1.52,1.525,1.53,1.535,1.54,1.545,1.55,1.555,1.56,1.565,1.57,1.575,1.58,1.585,1.59,1.595,1.6,1.605,1.61,
  1.615,1.62,1.625,1.63,1.635,1.64];
const bEdgeAt7p9e14 = [0.186,0.195,0.204,0.213,0.222,0.231,0.24,0.249,0.258,0.267,0.276,0.285,0.294,0.303,0.312,
  0.321,0.33,0.339,0.348,0.357,0.366,0.375,0.384,0.393,0.402,0.411,0.42,0.43,0.44,0.453,0.483,0.52,0.55,0.581,0.61,
  1.133,1.147,1.222,1.228,1.234,1.24,1.246,1.252,1.258,1.264,1.27,1.276,1.282,1.288,1.294,1.3,1.306,1.312,1.318,
  1.324,1.33,1.336,1.342,1.348,1.354,1.36,1.366,1.372,1.378,1.384,1.39,1.396,1.402,1.408,1.414,1.42,1.426,1.432,
  1.438,1.444,1.45,1.456,1.462,1.468,1.474,1.48,1.486,1.492,1.498,1.504,1.51,1.516,1.522,1.528,1.534,1.54,1.546,
  1.552,1.558,1.564,1.57,1.576,1.582,1.588,1.594,1.6,1.606,1.612,1.618,1.624,1.63,1.636,1.64];
const bEdgeAt1p6e15 = [0.224,0.234,0.244,0.254,0.264,0.274,0.284,0.294,0.304,0.314,0.324,0.334,0.344,0.354,0.364,
  0.374,0.384,0.394,0.404,0.414,0.424,0.434,0.444,0.454,0.464,0.474,0.484,0.494,0.514,0.572,0.626,0.648,0.953,0.965,
  0.977,0.989,1.001,1.013,1.025,1.037,1.049,1.061,1.073,1.085,1.097,1.109,1.121,1.133,1.145,1.157,1.169,1.181,1.193,
  1.205,1.217,1.229,1.241,1.253,1.265,1.277,1.289,1.301,1.313,1.325,1.337,1.349,1.361,1.371];
const bEdgeAt2p4e15 = [0.214,0.225,0.236,0.247,0.258,0.269,0.28,0.291,0.302,0.313,0.324,0.335,0.346,0.357,0.368,
  0.379,0.39,0.401,0.412,0.423,0.434,0.445,0.456,0.467,0.478,0.489,0.5,0.511,0.522,0.533,0.544,0.555,0.566,0.577,
  0.587,0.92,0.935,0.95,0.965,0.98,0.995,1.01,1.025,1.04,1.055,1.07,1.085,1.1,1.115,1.13,1.145,1.16,1.175,1.19,
  1.205,1.22,1.235,1.25,1.264,1.295,1.333,1.371];
const bEdgeAt3p4e15 = [0.095,0.105,0.12,0.133,0.144,0.29,0.3,0.315,0.33,0.363,1.299,1.339];

// ---------------- assembling the series ----------------
const pairs = (list) => list.map(([x, y]) => ({ x, y }));
const level = (conc, depths) => depths.map((x) => ({ x, y: conc }));

const bCenterData = [].concat(pairs(bCenterSurface), pairs(bCenterHumpBase), pairs(bCenterHumpLow),
  pairs(bCenterHumpUpper), pairs(bCenterHumpTop), pairs(bCenterScatter),
  level(2.4e14, bCenterAt2p4e14), level(5.0e14, bCenterAt5e14), level(7.9e14, bCenterAt7p9e14),
  level(1.6e15, bCenterAt1p6e15), level(2.4e15, bCenterAt2p4e15), level(3.9e15, bCenterAt3p9e15));
const pCenterData = [].concat(pairs(pCenterSurface), pairs(pCenterProfileLow), pairs(pCenterProfile),
  pairs(pCenterScatter), level(7.2e15, pCenterAt7p2e15), level(4.7e15, pCenterAt4p7e15),
  level(2.75e15, pCenterAt2p75e15), level(1.4e15, pCenterAt1p4e15), level(4.1e14, pCenterAt4p1e14));
const bEdgeData = [].concat(pairs(bEdgeSurface), pairs(bEdgeNearSurface), pairs(bEdgeHumpLow), pairs(bEdgeHumpLower),
  pairs(bEdgeHumpMid), pairs(bEdgeHumpUpper), pairs(bEdgeHumpTop), level(2.4e14, bEdgeAt2p4e14),
  level(7.9e14, bEdgeAt7p9e14), level(1.6e15, bEdgeAt1p6e15), level(2.4e15, bEdgeAt2p4e15), level(3.4e15, bEdgeAt3p4e15));
const pEdgeData = [].concat(pairs(pEdgeSurface), pairs(pEdgeProfileLow), pairs(pEdgeProfileMid), pairs(pEdgeProfile),
  pairs(pEdgeScatter), level(8.6e15, pEdgeAt8p6e15), level(6.3e15, pEdgeAt6p3e15), level(4.5e15, pEdgeAt4p5e15),
  level(3.1e15, pEdgeAt3p1e15), level(1.5e15, pEdgeAt1p5e15), level(4.4e14, pEdgeAt4p4e14));

// ---------------- fonts ----------------
const FONT = 'Lato, "Open Sans", "DejaVu Sans", sans-serif';
const measure = document.createElement('canvas').getContext('2d');
function widthAt100(text, weight) {
  measure.font = `${weight} 100px ${FONT}`;
  return measure.measureText(text).width;
}
const tickSize = 100 * 66 / widthAt100('1E+20', 'normal');
const legendSize = 100 * 158 / widthAt100('Silvaco TCAD B', 'normal');
const xTitleSize = 100 * 204 / widthAt100('Depth (µm)', 'bold');
const SUP = 0.62;
const yTitleSize = 100 * 358 / (widthAt100('Concentration (cm', 'bold') + widthAt100(')', 'bold') +
  SUP * widthAt100('-3', 'bold'));

const isDecade = (v) => Math.abs(Math.log10(v) - Math.round(Math.log10(v))) < 1e-6;
const isHalf = (v) => Math.abs(v * 2 - Math.round(v * 2)) < 1e-6;

// ---------------- decorations: dotted minor grid, inward ticks, frame, legend, titles ----------------
const decorations = {
  id: 'decorations',
  beforeDatasetsDraw(chart) {
    const { ctx, chartArea: a, scales: { x, y } } = chart;
    ctx.save();
    ctx.strokeStyle = '#BFBFBF';
    ctx.lineWidth = 1;
    ctx.setLineDash([1, 1.5]);
    for (const t of y.ticks) {
      if (isDecade(t.value)) continue;
      const py = Math.round(y.getPixelForValue(t.value)) + 0.5;
      ctx.beginPath(); ctx.moveTo(a.left, py); ctx.lineTo(a.right, py); ctx.stroke();
    }
    ctx.setLineDash([]);
    ctx.strokeStyle = '#000000';
    ctx.lineWidth = 2;
    for (const t of y.ticks) {
      const py = Math.round(y.getPixelForValue(t.value));
      ctx.beginPath(); ctx.moveTo(a.left, py); ctx.lineTo(a.left + 7, py); ctx.stroke();
    }
    for (const t of x.ticks) {
      const px = Math.round(x.getPixelForValue(t.value));
      ctx.beginPath(); ctx.moveTo(px, a.bottom); ctx.lineTo(px, a.bottom - 6); ctx.stroke();
    }
    ctx.lineWidth = 3;
    ctx.strokeRect(a.left, a.top, a.right - a.left, a.bottom - a.top);
    ctx.restore();
  },
  afterDraw(chart) {
    const { ctx } = chart;
    ctx.save();
    // legend box
    const box = { left: 783, top: 32, right: 1045, bottom: 354 };
    ctx.fillStyle = '#ffffff';
    ctx.fillRect(box.left, box.top, box.right - box.left, box.bottom - box.top);
    ctx.strokeStyle = '#000000';
    ctx.lineWidth = 1.25;
    ctx.strokeRect(box.left, box.top, box.right - box.left, box.bottom - box.top);
    ctx.font = `${legendSize}px ${FONT}`;
    ctx.textBaseline = 'middle';
    ctx.textAlign = 'left';
    chart.data.datasets.forEach((ds, i) => {
      const cy = 58 + i * 54;
      if (ds.showLine) {
        ctx.strokeStyle = ds.borderColor;
        ctx.lineWidth = ds.borderWidth;
        ctx.setLineDash(ds.borderDash);
        ctx.beginPath(); ctx.moveTo(797, cy); ctx.lineTo(867, cy); ctx.stroke();
        ctx.setLineDash([]);
      } else {
        ctx.fillStyle = 'rgba(0,0,0,0)';
        ctx.strokeStyle = ds.borderColor;
        ctx.lineWidth = ds.pointBorderWidth;
        Chart.helpers.drawPoint(ctx, {
          pointStyle: ds.pointStyle, radius: ds.pointRadius, borderWidth: ds.pointBorderWidth, rotation: 0
        }, 832, cy);
      }
      ctx.fillStyle = '#000000';
      ctx.fillText(ds.label, 874, cy + 1);
    });
    // x title
    ctx.fillStyle = '#000000';
    ctx.font = `bold ${xTitleSize}px ${FONT}`;
    ctx.textAlign = 'right';
    ctx.textBaseline = 'alphabetic';
    ctx.fillText('Depth (µm)', 1077, 757);
    // y title with superscript
    ctx.translate(52, 368);
    ctx.rotate(-Math.PI / 2);
    ctx.textAlign = 'left';
    const main = 'Concentration (cm';
    ctx.font = `bold ${yTitleSize}px ${FONT}`;
    ctx.fillText(main, 0, 0);
    let w = ctx.measureText(main).width;
    ctx.font = `bold ${yTitleSize * SUP}px ${FONT}`;
    ctx.fillText('-3', w, -yTitleSize * 0.36);
    w += ctx.measureText('-3').width;
    ctx.font = `bold ${yTitleSize}px ${FONT}`;
    ctx.fillText(')', w, 0);
    ctx.restore();
  }
};

const circle = (label, color, data, order) => ({
  label, data, order, clip: false, showLine: false,
  pointStyle: 'circle', pointRadius: 6.5, pointBorderWidth: 1.2,
  borderColor: color, pointBorderColor: color, backgroundColor: 'rgba(0,0,0,0)', pointBackgroundColor: 'rgba(0,0,0,0)'
});
const triangle = (label, color, data, order) => ({
  label, data, order, clip: false, showLine: false,
  pointStyle: 'triangle', pointRadius: 8.2, pointBorderWidth: 1.25,
  borderColor: color, pointBorderColor: color, backgroundColor: 'rgba(0,0,0,0)', pointBackgroundColor: 'rgba(0,0,0,0)'
});
const dashed = (label, color, values, order) => ({
  label, order, showLine: true, data: values.map((v, i) => ({ x: tcadDepth[i], y: v })),
  borderColor: color, borderWidth: 3, borderDash: [11, 5], pointRadius: 0, fill: false,
  cubicInterpolationMode: 'monotone'
});

// higher "order" is painted first, so the simulated curves sit underneath the SIMS markers
new Chart(document.getElementById('chart'), {
  type: 'scatter',
  data: {
    datasets: [
      dashed('Silvaco TCAD B', '#FF0000', tcadB, 7),
      dashed('Silvaco TCAD P', '#0000FF', tcadP, 6),
      circle('SIMS B Center', '#FF0000', bCenterData, 5),
      circle('SIMS P Center', '#0000FF', pCenterData, 4),
      triangle('SIMS B Edge', '#F4B183', bEdgeData, 3),
      triangle('SIMS P Edge', '#00B0F0', pEdgeData, 2)
    ]
  },
  options: {
    responsive: false,
    animation: false,
    events: [],
    layout: { padding: { top: 22, right: 31, bottom: 0, left: 0 } },
    plugins: { legend: { display: false }, tooltip: { enabled: false }, title: { display: false } },
    scales: {
      x: {
        type: 'linear', min: 0, max: 2,
        afterFit(scale) { scale.height = 89; },
        border: { display: false },
        grid: {
          drawTicks: false, lineWidth: 2,
          color: (c) => (c.tick && isHalf(c.tick.value) && c.tick.value > 0.01 && c.tick.value < 1.99) ? '#BFBFBF' : 'rgba(0,0,0,0)'
        },
        ticks: {
          stepSize: 0.1, autoSkip: false, maxRotation: 0, padding: 22,
          color: '#595959', font: { family: FONT, size: tickSize },
          callback: (v) => isHalf(v) ? String(Math.round(v * 2) / 2) : ''
        }
      },
      y: {
        type: 'logarithmic', min: 1e13, max: 1e20,
        afterFit(scale) { scale.width = 168; },
        afterBuildTicks(scale) {
          const list = [];
          for (let e = 13; e < 20; e++) for (let m = 1; m <= 9; m++) list.push({ value: m * Math.pow(10, e) });
          list.push({ value: 1e20 });
          scale.ticks = list;
        },
        border: { display: false },
        grid: {
          drawTicks: false, lineWidth: 2,
          color: (c) => (c.tick && isDecade(c.tick.value) && c.tick.value > 1.5e13 && c.tick.value < 0.5e20) ? '#BFBFBF' : 'rgba(0,0,0,0)'
        },
        ticks: {
          autoSkip: false, padding: 25,
          color: '#595959', font: { family: FONT, size: tickSize },
          callback: (v) => isDecade(v) ? '1E+' + Math.round(Math.log10(v)) : ''
        }
      }
    }
  },
  plugins: [decorations]
});
</script>
</body>
</html>
